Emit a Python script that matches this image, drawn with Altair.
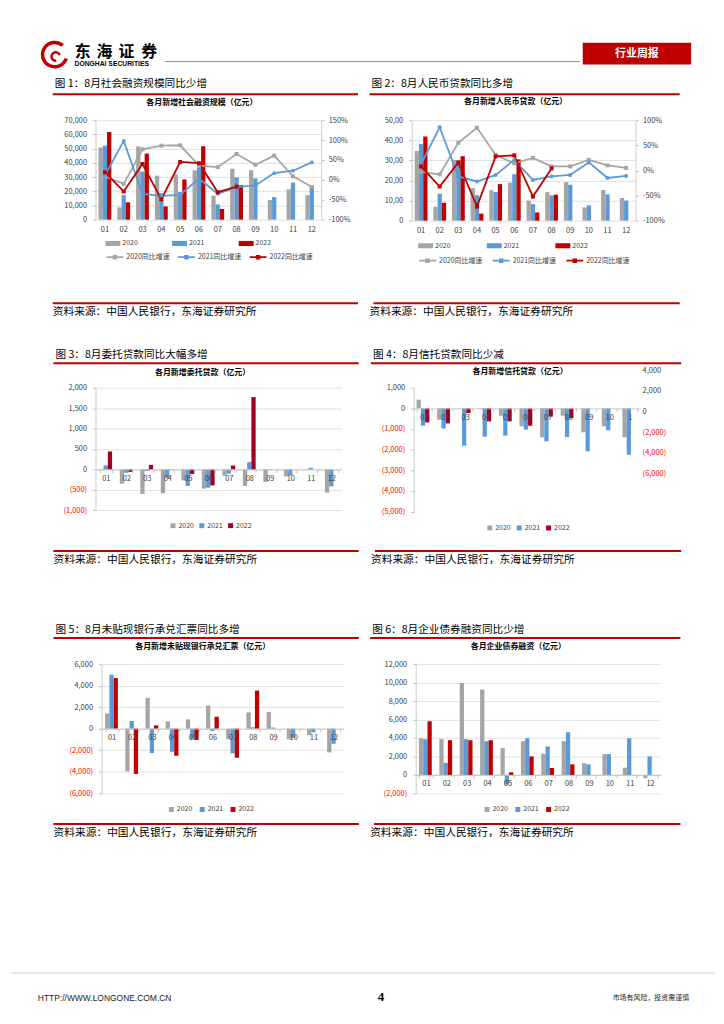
import altair as alt
import pandas as pd

FONT = 'Noto Sans CJK SC'
MONTHS = ['01', '02', '03', '04', '05', '06', '07', '08', '09', '10', '11', '12']
YEARS = ['2020', '2021', '2022']
SERIES = ['2020同比增速', '2021同比增速', '2022同比增速']
MARKERS = ['square', 'circle', 'square']

GRAY, BLUE, RED, DRED = '#A5A5A5', '#5B9BD5', '#C00000', '#A50021'
NEG = '#FF0000'
LBL = '#404040'
AXC = '#BFBFBF'
GRID = '#D9D9D9'

# 图1 各月新增社会融资规模（亿元）
sf_2020 = [50800, 8600, 51600, 31000, 31900, 34700, 16900, 35800, 34800, 13900, 21300, 17200]
sf_2021 = [52000, 17300, 33900, 18600, 19500, 36700, 10700, 29700, 29000, 15900, 26100, 23700]
sf_2022 = [61700, 12200, 46500, 9300, 28300, 51700, 7500, 24300]
sfg_2020 = [9, -10, 77, 86, 87, 36, 32, 65, 38, 61, 9, -18]
sfg_2021 = [11, 98, -35, -40, -38, 3, -35, -18, -14, 17, 23, 44]
sfg_2022 = [19, -29, 40, -49, 45, 42, -31, -17]

# 图2 各月新增人民币贷款（亿元）
ln_2020 = [34700, 6900, 30300, 16300, 15200, 18900, 10000, 14200, 19200, 6600, 15300, 11300]
ln_2021 = [38100, 13400, 29800, 12700, 14200, 23100, 8200, 12600, 17900, 7600, 13100, 10000]
ln_2022 = [41900, 8900, 32100, 3500, 18200, 30500, 4000, 12900]
lng_2020 = [-3, -8, 55, 85, 31, 14, 25, 8, 8, 21, 10, 5]
lng_2021 = [12, 86, -12, -22, -9, 21, -19, -12, -9, 16, -15, -11]
lng_2022 = [8, -32, 16, -72, 28, 30, -52, 4]

# 图3 各月新增委托贷款（亿元）
wt_2020 = [-10, -349, -600, -584, -268, -470, -154, -405, -308, -170, -10, -568]
wt_2021 = [100, -81, -40, -200, -405, -446, -105, 178, -10, -146, 40, -413]
wt_2022 = [440, -60, 113, -5, -114, -389, 97, 1770]

# 图4 各月新增信托贷款（亿元）
xt_months = MONTHS[:11]
xt_2020 = [420, -550, -15, -30, -355, -870, -1400, -355, -1160, -870, -1400]
xt_2021 = [-840, -970, -1806, -1370, -1320, -1030, -1600, -1390, -2080, -1060, -2240]
xt_2022 = [-680, -730, -226, -630, -630, -840, -400, -470]

# 图5 各月新增未贴现银行承兑汇票（亿元）
pj_2020 = [1415, -3970, 2862, 677, 862, 2154, -985, 1508, 1538, -985, -615, -2215]
pj_2021 = [5015, 708, -2277, -2154, -1000, -215, -2308, 123, 100, -862, -338, -1415]
pj_2022 = [4708, -4215, 308, -2523, -1046, 1108, -2708, 3538]

# 图6 各月企业债券融资（亿元）
zq_2020 = [3978, 3870, 9964, 9247, 2903, 3656, 2294, 3656, 1290, 2258, 789, -358]
zq_2021 = [3870, 1290, 3870, 3656, -1039, 3978, 3082, 4624, 1147, 2258, 3978, 2007]
zq_2022 = [5806, 3763, 3763, 3763, 287, 2007, 753, 1147]

SOURCE = '资料来源：中国人民银行，东海证券研究所'

FMT = {
    'comma': "format(datum.value, ',')",
    'paren': "datum.value < 0 ? '(' + format(-datum.value, ',') + ')' : format(datum.value, ',')",
    'trunc': "datum.value == 0 ? '0' : substring(format(datum.value, ','), 0, length(format(datum.value, ',')) - 1)",
    'pct': "datum.value + '%'",
}
NEGCOLOR = {'condition': {'test': 'datum.value < 0', 'value': NEG}, 'value': LBL}

BAR_SYM = 'M-1,-0.34H1V0.34H-1Z'
LINE_SYM = 'M-1,0H1M-0.16,-0.16H0.16V0.16H-0.16Z'


def bars_frame(months, series):
    rows = []
    for yr, vals in zip(YEARS, series):
        for m, v in zip(months, vals):
            rows.append({'month': m, 'year': yr, 'value': v})
    return pd.DataFrame(rows)


def lines_frame(months, series):
    rows = []
    for nm, vals in zip(SERIES, series):
        for m, v in zip(months, vals):
            rows.append({'month': m, 'series': nm, 'g': v})
    return pd.DataFrame(rows)


def T(s, px, py, origin, size=8.0, color='#000000', weight='normal', align='left', font=FONT):
    ox, oy = origin
    return alt.Chart(pd.DataFrame({'t': [s]})).mark_text(
        align=align, baseline='middle', fontSize=size, font=font, fontWeight=weight, color=color
    ).encode(x=alt.value(px - ox), y=alt.value(py - oy), text=alt.Text('t:N'))


def HL(px1, px2, py, origin, color, width):
    ox, oy = origin
    return alt.Chart(pd.DataFrame({'a': [0]})).mark_rule(color=color, strokeWidth=width).encode(
        x=alt.value(px1 - ox), x2=alt.value(px2 - ox), y=alt.value(py - oy))


def fig_decos(origin, left, title, sub, sub_xy, title_y, under_y, src_line_y, src_y):
    x0 = 50 if left else 368
    x1 = 357 if left else 680
    tx = 52 if left else 370
    sx0 = 50 if left else 372
    return [
        T(title, tx, title_y, origin, size=10.7),
        HL(x0, x1, under_y, origin, RED, 2),
        T(sub, sub_xy[0], sub_xy[1], origin, size=8, weight='bold', align='center'),
        HL(sx0, x1, src_line_y, origin, RED, 2),
        T(SOURCE, tx - 2, src_y, origin, size=10.8),
    ]


def bar_legend(origin, px, py_center, cp, wide):
    ox, oy = origin
    half = 7.5 if wide else 4
    return alt.Legend(title=None, orient='none', legendX=px - ox, legendY=py_center - oy - half,
                      direction='horizontal',
                      symbolType=BAR_SYM if wide else 'square', symbolSize=225 if wide else 25,
                      symbolStrokeWidth=0, labelFont=FONT, labelFontSize=7, labelColor=LBL,
                      labelOffset=2, columnPadding=cp, padding=0)


def line_legend(origin, px, py_center, cp):
    ox, oy = origin
    return alt.Legend(title=None, orient='none', legendX=px - ox, legendY=py_center - oy - 8.5,
                      direction='horizontal', symbolType=LINE_SYM, symbolSize=289,
                      symbolStrokeWidth=1.8, labelFont=FONT, labelFontSize=7, labelColor=LBL,
                      labelOffset=2, columnPadding=cp, padding=0)


def panel(origin, w, h, months, ydom, yvals, yfmt, grid, pi, cols, bars, bleg,
          lines=None, rdom=None, rvals=None, lleg=None, zero_axis=False,
          xlabel_expr=None, extra=None, decos=()):
    xscale = alt.Scale(domain=months, paddingInner=pi, paddingOuter=pi / 2)
    xa = dict(title=None, labelAngle=0, labelFont=FONT, labelFontSize=7.5, labelColor=LBL, orient='bottom')
    if xlabel_expr:
        xa['labelExpr'] = xlabel_expr
    if zero_axis:
        zero_rel = h * ydom[1] / (ydom[1] - ydom[0])
        xa.update(offset=-(h - zero_rel), domain=True, domainColor=AXC, domainWidth=0.8,
                  ticks=True, tickBand='extent', tickSize=3, tickColor=AXC, labelPadding=2, zindex=1)
    else:
        xa.update(domain=False, ticks=False, labelPadding=6)
    xaxis = alt.Axis(**xa)
    yaxis = alt.Axis(title=None, values=yvals, grid=grid, gridColor=GRID, gridWidth=0.8,
                     domain=True, domainColor=AXC, domainWidth=0.8, ticks=True, tickSize=3,
                     tickColor=AXC, labelPadding=6, labelExpr=FMT[yfmt], labelColor=NEGCOLOR,
                     labelFont=FONT, labelFontSize=7.5)
    bdf = bars_frame(months, bars)
    bar = alt.Chart(bdf).mark_bar().encode(
        x=alt.X('month:N', scale=xscale, axis=xaxis),
        xOffset=alt.XOffset('year:N', scale=alt.Scale(domain=YEARS, paddingInner=0, paddingOuter=0)),
        y=alt.Y('value:Q', scale=alt.Scale(domain=ydom, nice=False), axis=yaxis),
        color=alt.Color('year:N', scale=alt.Scale(domain=YEARS, range=cols), legend=bleg),
    )
    layers = [bar]
    if lines is not None:
        ldf = lines_frame(months, lines)
        rscale = alt.Scale(domain=rdom, nice=False)
        raxis = alt.Axis(title=None, orient='right', values=rvals, grid=False, domain=True,
                         domainColor=AXC, domainWidth=0.8, ticks=True, tickSize=3, tickColor=AXC,
                         labelPadding=4, labelExpr=FMT['pct'], labelColor=LBL, labelFont=FONT,
                         labelFontSize=7.5)
        ln = alt.Chart(ldf).mark_line(strokeWidth=1.8).encode(
            x=alt.X('month:N', scale=xscale, axis=xaxis),
            y=alt.Y('g:Q', scale=rscale, axis=raxis),
            stroke=alt.Stroke('series:N', scale=alt.Scale(domain=SERIES, range=cols), legend=lleg),
        )
        layers.append(ln)
        for nm, c, shp in zip(SERIES, cols, MARKERS):
            layers.append(
                alt.Chart(ldf).transform_filter(alt.datum.series == nm).mark_point(
                    filled=True, size=16, opacity=1, shape=shp, color=c).encode(
                    x=alt.X('month:N', scale=xscale, axis=xaxis),
                    y=alt.Y('g:Q', scale=rscale, axis=None))
            )
    if extra is not None:
        ra = alt.Chart(pd.DataFrame({'v': extra['dom']})).mark_point(opacity=0).encode(
            y=alt.Y('v:Q', scale=alt.Scale(domain=extra['dom'], range=extra['range'], nice=False),
                    axis=alt.Axis(title=None, orient='right', values=extra['vals'], grid=False,
                                  domain=False, ticks=False, labelPadding=2, labelExpr=FMT['paren'],
                                  labelColor=NEGCOLOR, labelFont=FONT, labelFontSize=7.5,
                                  labelAlign='left'))
        )
        layers.append(ra)
    layers += list(decos)
    ch = alt.layer(*layers).properties(width=w, height=h)
    if lines is not None or extra is not None:
        ch = ch.resolve_scale(y='independent')
    return ch


def spacer(w, h):
    return alt.Chart(pd.DataFrame({'a': [0]})).mark_point(opacity=0).encode(
        x=alt.value(0), y=alt.value(0)).properties(width=w, height=h)


P1 = (93, 118); W1, H1 = 227, 100
P2 = (410.5, 118); W2, H2 = 225, 101
P3 = (92.3, 386.7); W3, H3 = 247.5, 123.3
P4 = (411, 386.7); W4, H4 = 227.7, 124.6
P5 = (98.2, 664.3); W5, H5 = 243.6, 129.7
P6 = (413.8, 664.3); W6, H6 = 246, 130

p1 = panel(P1, W1, H1, MONTHS, [0, 70000], list(range(0, 70001, 10000)), 'comma', True, 0.32,
           [GRAY, BLUE, RED], (sf_2020, sf_2021, sf_2022), bar_legend(P1, 103, 241.7, 34, True),
           lines=(sfg_2020, sfg_2021, sfg_2022), rdom=[-100, 150], rvals=[-100, -50, 0, 50, 100, 150],
           lleg=line_legend(P1, 103, 254.5, 4),
           decos=fig_decos(P1, True, '图 1：8月社会融资规模同比少增', '各月新增社会融资规模（亿元）',
                           (200, 101), 82, 92, 302, 311))

p2 = panel(P2, W2, H2, MONTHS, [0, 50000], list(range(0, 50001, 10000)), 'trunc', True, 0.32,
           [GRAY, BLUE, RED], (ln_2020, ln_2021, ln_2022), bar_legend(P2, 417, 244, 36, True),
           lines=(lng_2020, lng_2021, lng_2022), rdom=[-100, 100], rvals=[-100, -50, 0, 50, 100],
           lleg=line_legend(P2, 417, 258, 6),
           decos=fig_decos(P2, False, '图 2：8月人民币贷款同比多增', '各月新增人民币贷款（亿元）',
                           (515, 100), 82, 92, 302, 311))

p3 = panel(P3, W3, H3, MONTHS, [-1000, 2000], list(range(-1000, 2001, 500)), 'paren', True, 0.37,
           [GRAY, BLUE, DRED], (wt_2020, wt_2021, wt_2022), bar_legend(P3, 166.7, 525.7, 4, False),
           zero_axis=True,
           decos=fig_decos(P3, True, '图 3：8月委托贷款同比大幅多增', '各月新增委托贷款（亿元）',
                           (200, 372), 354, 362, 551, 560))

p4 = panel(P4, W4, H4, xt_months, [-5000, 1000], list(range(-5000, 1001, 1000)), 'paren', False, 0.28,
           [GRAY, BLUE, DRED], (xt_2020, xt_2021, xt_2022), bar_legend(P4, 484, 528, 4.6, False),
           zero_axis=True, xlabel_expr="datum.label == '11' ? '1' : datum.label",
           extra={'dom': [-6000, 4000], 'range': [472.7 - P4[1], 369.3 - P4[1]],
                  'vals': [-6000, -4000, -2000, 0, 2000, 4000]},
           decos=fig_decos(P4, False, '图 4：8月信托贷款同比少减', '各月新增信托贷款（亿元）',
                           (518, 371), 354, 362, 551, 560))

p5 = panel(P5, W5, H5, MONTHS, [-6000, 6000], list(range(-6000, 6001, 2000)), 'paren', True, 0.36,
           [GRAY, BLUE, RED], (pj_2020, pj_2021, pj_2022), bar_legend(P5, 165, 810.7, 6, False),
           zero_axis=True,
           decos=fig_decos(P5, True, '图 5：8月未贴现银行承兑汇票同比多增', '各月新增未贴现银行承兑汇票（亿元）',
                           (200, 647), 630, 638, 825, 834))

p6 = panel(P6, W6, H6, MONTHS, [-2000, 12000], list(range(-2000, 12001, 2000)), 'paren', True, 0.32,
           [GRAY, BLUE, RED], (zq_2020, zq_2021, zq_2022), bar_legend(P6, 482, 810.7, 6, False),
           zero_axis=True,
           decos=fig_decos(P6, False, '图 6：8月企业债券融资同比少增', '各月企业债券融资（亿元）',
                           (517, 647), 630, 638, 825, 834))

# header
HO = (8, 8)
arc1 = alt.Chart(pd.DataFrame({'a': [0]})).mark_arc(
    innerRadius=10.5, outerRadius=14, theta=1.9, theta2=7.0, color=RED).encode(
    x=alt.value(44), y=alt.value(44))
arc2 = alt.Chart(pd.DataFrame({'a': [0]})).mark_arc(
    innerRadius=3, outerRadius=5.5, theta=3.0, theta2=7.5, color=RED).encode(
    x=alt.value(45), y=alt.value(46))
box = alt.Chart(pd.DataFrame({'a': [0]})).mark_rect(color=RED).encode(
    x=alt.value(583 - 8), x2=alt.value(692 - 8), y=alt.value(40 - 8), y2=alt.value(62 - 8))
header_layers = [
    arc1, arc2,
    T('东', 80, 49, HO, size=16, weight='bold', align='center'),
    T('海', 102, 49, HO, size=16, weight='bold', align='center'),
    T('证', 124, 49, HO, size=16, weight='bold', align='center'),
    T('券', 147, 49, HO, size=16, weight='bold', align='center'),
    T('DONGHAI SECURITIES', 72, 61.5, HO, size=6.8, weight='bold', font='Liberation Sans'),
    HL(163, 580, 59, HO, '#C0504D', 0.8),
    box,
    T('行业周报', 637.5, 51, HO, size=11, weight='bold', color='#FFFFFF', align='center'),
]
header = alt.layer(*header_layers).properties(width=708, height=110)

# Nested rows take no height in the flush layout, so each row starts where the
# following spacer starts; the footer therefore begins at the top of row 3.
FO = (8, P5[1])
footer_layers = [
    HL(8, 716, 975, FO, '#BFBFBF', 0.8),
    T('HTTP://WWW.LONGONE.COM.CN', 35, 1000, FO, size=8.5, font='Liberation Sans', color='#222222'),
    T('4', 380, 999, FO, size=13, weight='bold', font='Liberation Serif', align='center'),
    T('市场有风险，投资需谨慎', 690, 1000, FO, size=7, align='right', color='#222222'),
]
footer = alt.layer(*footer_layers).properties(width=708, height=1016 - P5[1])

RES = dict(color='independent', stroke='independent')

row1 = alt.hconcat(spacer(P1[0] - 8, H2), p1, spacer(P2[0] - (P1[0] + W1), H2), p2,
                   spacing=0, bounds='flush').resolve_scale(**RES)
row2 = alt.hconcat(spacer(P3[0] - 8, H4), p3, spacer(P4[0] - (P3[0] + W3), H4), p4,
                   spacing=0, bounds='flush').resolve_scale(**RES)
row3 = alt.hconcat(spacer(P5[0] - 8, H6), p5, spacer(P6[0] - (P5[0] + W5), H6), p6,
                   spacing=0, bounds='flush').resolve_scale(**RES)

gap1 = spacer(708, P3[1] - P1[1])
gap2 = spacer(708, P5[1] - P3[1])

chart = alt.vconcat(header, row1, gap1, row2, gap2, row3, footer,
                    spacing=0, bounds='flush', padding=0).resolve_scale(**RES).configure_view(
    strokeWidth=0).configure_text(font=FONT)

chart.save('out.html', embed_options={'renderer': 'svg', 'actions': False})
